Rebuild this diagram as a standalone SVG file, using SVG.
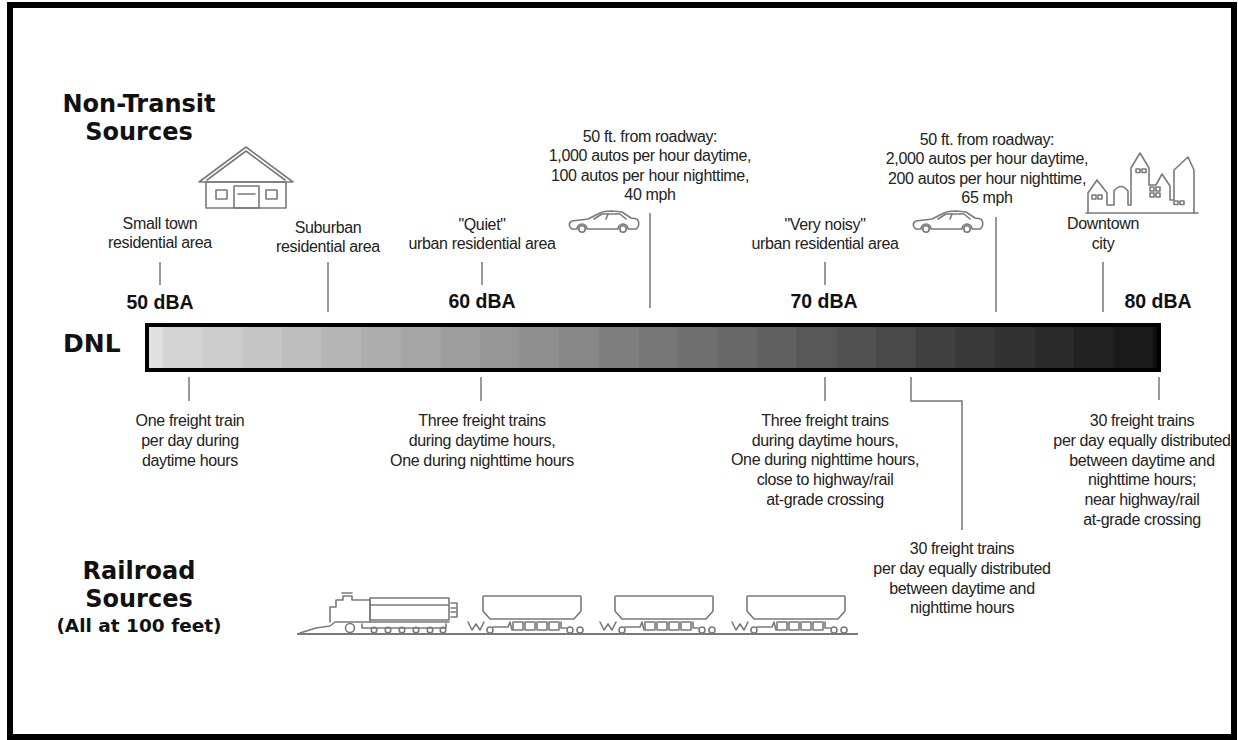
<svg xmlns="http://www.w3.org/2000/svg" xmlns:xlink="http://www.w3.org/1999/xlink" width="1238" height="740" viewBox="0 0 1238 740">
  <style>
    .lbl { font-family: "Liberation Sans", Arial, sans-serif; font-size: 16px; letter-spacing: -0.35px; fill: #222; text-anchor: middle; }
    .db { font-family: "Liberation Sans", Arial, sans-serif; font-weight: bold; font-size: 19.5px; fill: #111; text-anchor: middle; }
    .head { font-family: "DejaVu Sans", Verdana, sans-serif; font-weight: bold; font-size: 24px; fill: #111; text-anchor: middle; }
    .tick { fill: none; stroke: #777; stroke-width: 1.5; }
    .icon { fill: none; stroke: #7a7a7a; stroke-width: 1.6; stroke-linejoin: round; stroke-linecap: round; }
  </style>
  <defs>
    <!-- sedan silhouette, local 71 x 26 -->
    <g id="car" class="icon">
      <path d="M4,19 L2,17 Q0,13 4,11 L20,9 L32,3 Q36,1 44,1 L54,2 L63,8 L69,9 Q72,12 70,17 L68,19 L60,19 A5,5 0 0 0 50,19 L19,19 A5,5 0 0 0 9,19 Z"/>
      <path d="M26,9 L34,4 L52,4 L58,9"/>
      <path d="M40,4 L38,9"/>
      <circle cx="14" cy="19" r="3.2"/>
      <circle cx="55" cy="19" r="3.2"/>
    </g>
    <!-- hopper car, origin at left end of the chassis -->
    <g id="hopper" class="icon">
      <path d="M17,597 Q17,596 18,596 L114,596 Q115,596 115,597 L115,611 L108,619 L24,619 L17,611 Z"/>
      <path d="M2,622 L6,630 L10,624 L14,630 L18,622"/>
      <circle cx="24" cy="630" r="3"/>
      <path d="M27,627 L42,627 L44,622 L46,630"/>
      <rect x="47" y="622" width="10" height="8"/>
      <rect x="59" y="622" width="10" height="8"/>
      <rect x="71" y="622" width="10" height="8"/>
      <rect x="83" y="622" width="10" height="8"/>
      <path d="M95,622 L95,628 L100,628"/>
      <circle cx="104" cy="630" r="3"/>
      <circle cx="114" cy="630" r="3"/>
    </g>
  </defs>

  <rect x="0" y="0" width="1238" height="740" fill="#fff"/>
  <!-- outer frame -->
  <rect x="10" y="5" width="1224" height="732" fill="none" stroke="#000" stroke-width="6"/>

  <!-- headings -->
  <g id="non-transit-heading">
    <text class="head" x="139" y="112">Non-Transit</text>
    <text class="head" x="139" y="140">Sources</text>
  </g>
  <g id="railroad-heading">
    <text class="head" x="139" y="579">Railroad</text>
    <text class="head" x="139" y="607">Sources</text>
    <text class="head" x="139" y="632" style="font-size:18.5px">(All at 100 feet)</text>
  </g>

  <!-- DNL scale bar -->
  <g id="dnl-bar">
    <text x="63" y="352" style="font-family:'DejaVu Sans',Verdana,sans-serif;font-weight:bold;font-size:25px;fill:#111">DNL</text>
    <rect x="147" y="325" width="17" height="45" fill="#e0e0e0"/>
    <rect x="163" y="325" width="40.2" height="45" fill="#d4d4d4"/>
    <rect x="202.6" y="325" width="40.2" height="45" fill="#cccccc"/>
    <rect x="242.2" y="325" width="40.2" height="45" fill="#c5c5c5"/>
    <rect x="281.8" y="325" width="40.2" height="45" fill="#bdbdbd"/>
    <rect x="321.4" y="325" width="40.2" height="45" fill="#b5b5b5"/>
    <rect x="361" y="325" width="40.2" height="45" fill="#adadad"/>
    <rect x="400.6" y="325" width="40.2" height="45" fill="#a6a6a6"/>
    <rect x="440.2" y="325" width="40.2" height="45" fill="#9e9e9e"/>
    <rect x="479.8" y="325" width="40.2" height="45" fill="#969696"/>
    <rect x="519.4" y="325" width="40.2" height="45" fill="#8f8f8f"/>
    <rect x="559" y="325" width="40.2" height="45" fill="#878787"/>
    <rect x="598.6" y="325" width="40.2" height="45" fill="#7f7f7f"/>
    <rect x="638.2" y="325" width="40.2" height="45" fill="#777777"/>
    <rect x="677.8" y="325" width="40.2" height="45" fill="#707070"/>
    <rect x="717.4" y="325" width="40.2" height="45" fill="#686868"/>
    <rect x="757" y="325" width="40.2" height="45" fill="#606060"/>
    <rect x="796.6" y="325" width="40.2" height="45" fill="#585858"/>
    <rect x="836.2" y="325" width="40.2" height="45" fill="#515151"/>
    <rect x="875.8" y="325" width="40.2" height="45" fill="#494949"/>
    <rect x="915.4" y="325" width="40.2" height="45" fill="#414141"/>
    <rect x="955" y="325" width="40.2" height="45" fill="#393939"/>
    <rect x="994.6" y="325" width="40.2" height="45" fill="#323232"/>
    <rect x="1034.2" y="325" width="40.2" height="45" fill="#2a2a2a"/>
    <rect x="1073.8" y="325" width="40.2" height="45" fill="#222222"/>
    <rect x="1113.4" y="325" width="40" height="45" fill="#1a1a1a"/>
    <rect x="1153" y="325" width="6" height="45" fill="#0e0e0e"/>
    <rect x="147" y="325" width="1012" height="45" fill="none" stroke="#000" stroke-width="4"/>
  </g>

  <!-- level labels -->
  <g id="db-50"><text class="db" x="160" y="309">50 dBA</text></g>
  <g id="db-60"><text class="db" x="482" y="308">60 dBA</text></g>
  <g id="db-70"><text class="db" x="824" y="308">70 dBA</text></g>
  <g id="db-80"><text class="db" x="1158" y="308">80 dBA</text></g>

  <!-- leader lines -->
  <g id="connectors" class="tick">
    <line x1="160" y1="262" x2="160" y2="285"/>
    <line x1="328" y1="262" x2="328" y2="312"/>
    <line x1="482" y1="262" x2="482" y2="285"/>
    <line x1="650" y1="213" x2="650" y2="308"/>
    <line x1="825" y1="262" x2="825" y2="285"/>
    <line x1="996" y1="217" x2="996" y2="312"/>
    <line x1="1103" y1="262" x2="1103" y2="312"/>
    <line x1="189" y1="377" x2="189" y2="401"/>
    <line x1="481" y1="377" x2="481" y2="401"/>
    <line x1="825" y1="377" x2="825" y2="401"/>
    <polyline points="911,377 911,401 962,401 962,530"/>
    <line x1="1159" y1="377" x2="1159" y2="400"/>
  </g>

  <!-- non-transit sources -->
  <g id="small-town">
    <g class="icon">
      <polygon points="199,182 246,147 293,182"/>
      <polyline points="207,180 246,151 285,180"/>
      <rect x="206" y="182" width="80" height="26"/>
      <rect x="216" y="190" width="11" height="9"/>
      <rect x="266" y="190" width="11" height="9"/>
      <rect x="234" y="186" width="25" height="22"/>
      <line x1="238" y1="194" x2="255" y2="194"/>
    </g>
    <text class="lbl" x="160" y="229">Small town</text>
    <text class="lbl" x="160" y="248">residential area</text>
  </g>
  <g id="suburban">
    <text class="lbl" x="328" y="233">Suburban</text>
    <text class="lbl" x="328" y="252">residential area</text>
  </g>
  <g id="quiet-urban">
    <text class="lbl" x="482" y="230">"Quiet"</text>
    <text class="lbl" x="482" y="249">urban residential area</text>
  </g>
  <g id="roadway-40">
    <use xlink:href="#car" href="#car" transform="translate(568,210)"/>
    <text class="lbl" x="650" y="141.5">50 ft. from roadway:</text>
    <text class="lbl" x="650" y="161">1,000 autos per hour daytime,</text>
    <text class="lbl" x="650" y="180.5">100 autos per hour nighttime,</text>
    <text class="lbl" x="650" y="200">40 mph</text>
  </g>
  <g id="noisy-urban">
    <text class="lbl" x="825" y="230">"Very noisy"</text>
    <text class="lbl" x="825" y="249">urban residential area</text>
  </g>
  <g id="roadway-65">
    <use xlink:href="#car" href="#car" transform="translate(912,210)"/>
    <text class="lbl" x="987" y="144.5">50 ft. from roadway:</text>
    <text class="lbl" x="987" y="164">2,000 autos per hour daytime,</text>
    <text class="lbl" x="987" y="183.5">200 autos per hour nighttime,</text>
    <text class="lbl" x="987" y="203">65 mph</text>
  </g>
  <g id="downtown">
    <g class="icon">
      <path d="M1086,213 L1198,213"/>
      <path d="M1088,213 L1088,193 L1097,180 L1107,193 L1107,205 L1114,205 L1114,191 Q1121,182 1128,191 L1128,205 L1131,205 L1131,168 L1140,153 L1149,168 L1149,185 L1156,185 L1162,174 L1170,186 L1170,200 L1174,200 L1174,170 L1188,157 L1194,170 L1194,213"/>
      <rect x="1092" y="195" width="4" height="4"/>
      <rect x="1098" y="195" width="4" height="4"/>
      <rect x="1136" y="169" width="4" height="3.5"/>
      <rect x="1142" y="169" width="4" height="3.5"/>
      <rect x="1150" y="187" width="4" height="4"/>
      <rect x="1156" y="187" width="4" height="4"/>
      <rect x="1150" y="193" width="4" height="4"/>
      <rect x="1156" y="193" width="4" height="4"/>
      <rect x="1174" y="201" width="4" height="3.5"/>
      <rect x="1180" y="201" width="4" height="3.5"/>
    </g>
    <text class="lbl" x="1103" y="229">Downtown</text>
    <text class="lbl" x="1103" y="249">city</text>
  </g>

  <!-- railroad sources -->
  <g id="rail-one-train">
    <text class="lbl" x="190" y="426">One freight train</text>
    <text class="lbl" x="190" y="446">per day during</text>
    <text class="lbl" x="190" y="466">daytime hours</text>
  </g>
  <g id="rail-three-trains">
    <text class="lbl" x="482" y="426">Three freight trains</text>
    <text class="lbl" x="482" y="446">during daytime hours,</text>
    <text class="lbl" x="482" y="466">One during nighttime hours</text>
  </g>
  <g id="rail-three-trains-crossing">
    <text class="lbl" x="825" y="426">Three freight trains</text>
    <text class="lbl" x="825" y="445.5">during daytime hours,</text>
    <text class="lbl" x="825" y="465">One during nighttime hours,</text>
    <text class="lbl" x="825" y="485">close to highway/rail</text>
    <text class="lbl" x="825" y="505">at-grade crossing</text>
  </g>
  <g id="rail-thirty-trains">
    <text class="lbl" x="962" y="554">30 freight trains</text>
    <text class="lbl" x="962" y="574">per day equally distributed</text>
    <text class="lbl" x="962" y="594">between daytime and</text>
    <text class="lbl" x="962" y="613">nighttime hours</text>
  </g>
  <g id="rail-thirty-trains-crossing">
    <text class="lbl" x="1142" y="426">30 freight trains</text>
    <text class="lbl" x="1142" y="446">per day equally distributed</text>
    <text class="lbl" x="1142" y="465.5">between daytime and</text>
    <text class="lbl" x="1142" y="485">nighttime hours;</text>
    <text class="lbl" x="1142" y="505">near highway/rail</text>
    <text class="lbl" x="1142" y="525">at-grade crossing</text>
  </g>

  <!-- freight train -->
  <g id="train">
    <line x1="297" y1="634" x2="858" y2="634" stroke="#7a7a7a" stroke-width="2"/>
    <g class="icon">
      <path d="M300,633 L316,628 L330,626 L335,622 L449,622"/>
      <path d="M330,622 L330,607 L336,607 L336,600 L343,600 L343,596 L352,596 L352,600 L370,600 L370,622"/>
      <path d="M342,593 L352,593"/>
      <rect x="370" y="598" width="79" height="22"/>
      <line x1="370" y1="605" x2="449" y2="605"/>
      <circle cx="350" cy="628" r="4.5"/>
      <path d="M362,624 L362,628 L446,628 L446,624"/>
      <circle cx="374" cy="630" r="2.8"/>
      <circle cx="388" cy="630" r="2.8"/>
      <circle cx="402" cy="630" r="2.8"/>
      <circle cx="416" cy="630" r="2.8"/>
      <circle cx="430" cy="630" r="2.8"/>
      <circle cx="443" cy="630" r="2.8"/>
      <path d="M451,603 L457,603 L457,617 L451,617"/>
      <line x1="451" y1="608" x2="456" y2="608"/>
      <line x1="451" y1="612" x2="456" y2="612"/>
    </g>
    <use xlink:href="#hopper" href="#hopper" transform="translate(466,0)"/>
    <use xlink:href="#hopper" href="#hopper" transform="translate(598,0)"/>
    <use xlink:href="#hopper" href="#hopper" transform="translate(730,0)"/>
  </g>
</svg>
